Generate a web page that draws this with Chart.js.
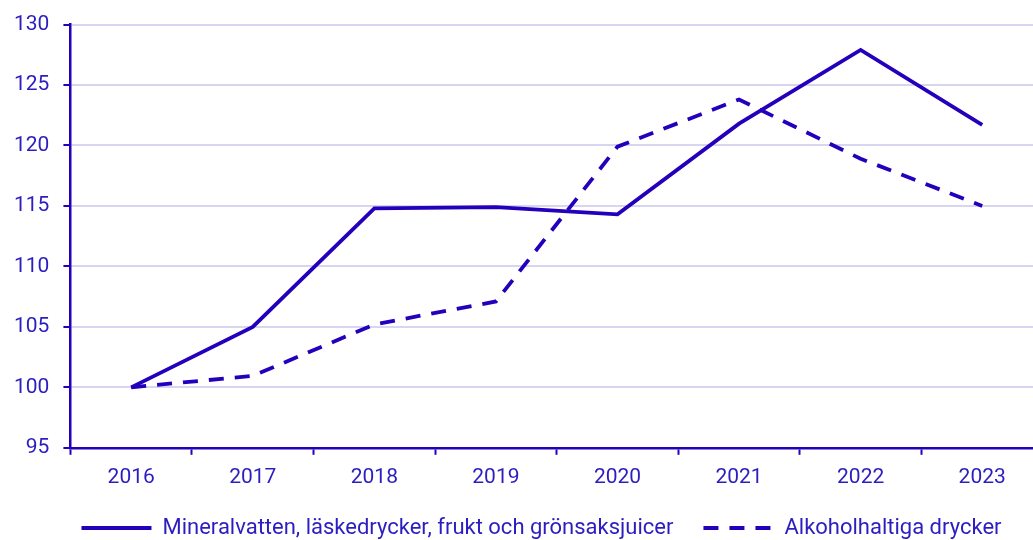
<!DOCTYPE html>
<html>
<head>
<meta charset="utf-8">
<script src="https://cdn.jsdelivr.net/npm/chart.js@4"></script>
<style>
  html, body { margin: 0; padding: 0; overflow: hidden; background: #fff; }
  #wrap { width: 1043px; height: 540px; }
</style>
</head>
<body>
<div id="wrap"><canvas id="lineChart"></canvas></div>
<script>
// Years on the x axis
var years = ['2016', '2017', '2018', '2019', '2020', '2021', '2022', '2023'];

// Index values (2016 = 100)
var mineralvatten = [100, 105.0, 114.8, 114.9, 114.3, 121.8, 127.9, 121.7];
var alkohol = [100, 100.95, 105.2, 107.1, 119.9, 123.8, 118.9, 115.0];

var seriesNames = ['Mineralvatten, läskedrycker, frukt och grönsaksjuicer', 'Alkoholhaltiga drycker'];

var lineColor = '#2400bd';
var textColor = '#2b1dc0';
var gridColor = '#d6d6f1';

Chart.defaults.font.family = 'Roboto, "Noto Sans", sans-serif';
Chart.defaults.font.size = 21;
Chart.defaults.color = textColor;

// move the legend a bit right and up, like in the original
var legendShift = {
  id: 'legendShift',
  afterLayout: function(chart) {
    chart.legend.left += 20;
    chart.legend.right += 20;
    chart.legend.top -= 13;
    chart.legend.bottom -= 13;
  }
};

var ctx = document.getElementById('lineChart').getContext('2d');

var myLineChart = new Chart(ctx, {
  type: 'line',
  data: {
    labels: years,
    datasets: [{
      label: seriesNames[0],
      data: mineralvatten,
      borderColor: lineColor,
      backgroundColor: lineColor,
      borderWidth: 3.8,
      pointRadius: 0,
      tension: 0
    }, {
      label: seriesNames[1],
      data: alkohol,
      borderColor: lineColor,
      backgroundColor: lineColor,
      borderWidth: 3.8,
      borderDash: [15, 11],
      pointRadius: 0,
      tension: 0
    }]
  },
  options: {
    responsive: true,
    maintainAspectRatio: false,
    animation: false,
    layout: { padding: { left: 0, top: 5, right: 0, bottom: -22 } },
    plugins: {
      tooltip: { enabled: false },
      legend: {
        position: 'bottom',
        labels: {
          usePointStyle: true,
          pointStyle: 'line',
          pointStyleWidth: 70,
          padding: 30,
          color: textColor,
          font: { size: 22 },
          // point style drops the dash, so put it back from the dataset
          generateLabels: function(chart) {
            var items = Chart.defaults.plugins.legend.labels.generateLabels(chart);
            items.forEach(function(item) {
              var ds = chart.data.datasets[item.datasetIndex];
              item.lineDash = ds.borderDash || [];
              item.lineWidth = 4;
              item.strokeStyle = lineColor;
            });
            return items;
          }
        }
      }
    },
    scales: {
      x: {
        offset: true,
        grid: {
          offset: true,
          drawOnChartArea: false,
          tickColor: lineColor,
          tickLength: 7,
          tickWidth: 2
        },
        border: { color: lineColor, width: 2.5 },
        ticks: { padding: 10, color: textColor }
      },
      y: {
        min: 95,
        max: 130,
        ticks: { stepSize: 5, padding: 14, color: textColor, font: { lineHeight: 1 } },
        grid: {
          color: gridColor,
          lineWidth: 2,
          tickColor: lineColor,
          tickLength: 7,
          tickWidth: 2
        },
        border: { color: lineColor, width: 2.5 }
      }
    }
  },
  plugins: [legendShift]
});
</script>
</body>
</html>
